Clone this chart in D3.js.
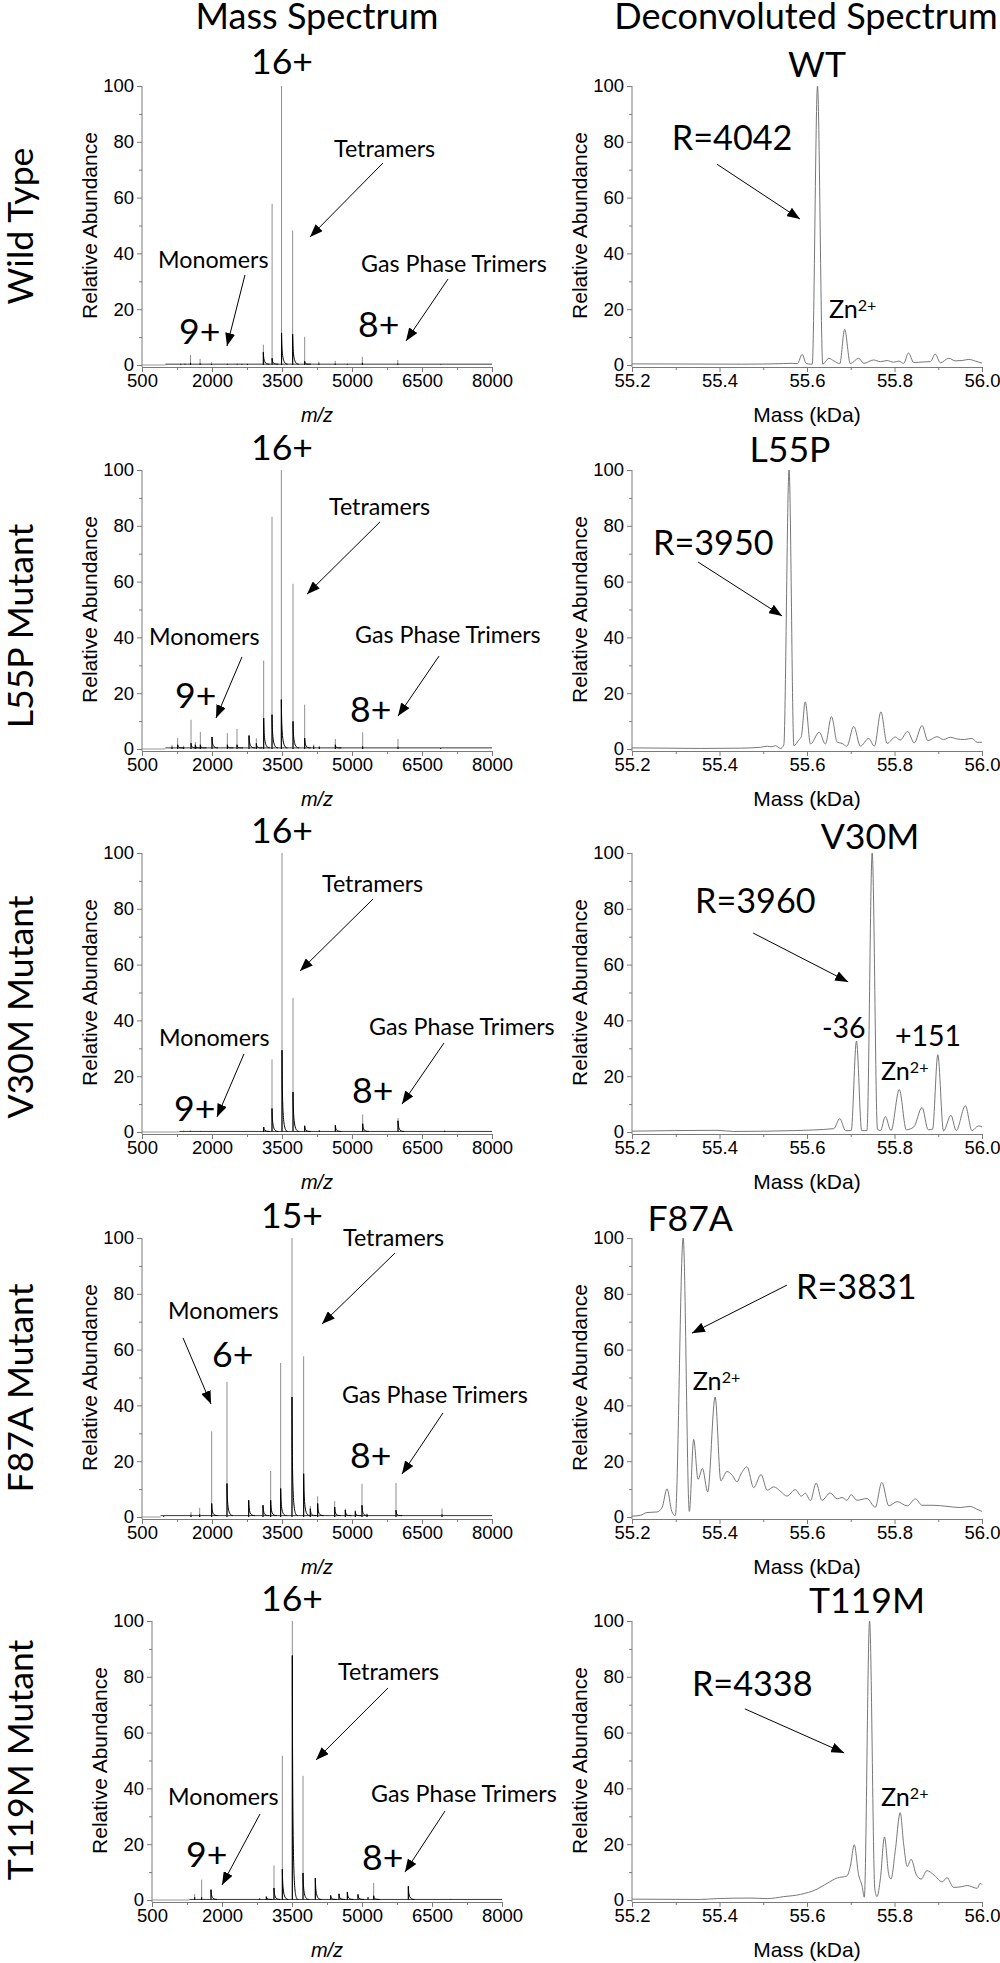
<!DOCTYPE html>
<html><head><meta charset="utf-8">
<script src="https://cdn.jsdelivr.net/npm/d3@7"></script>
<style>body{margin:0;background:#fff}svg{display:block}</style>
</head><body>
<svg id="c" width="1000" height="1963"></svg>
<script>
// ---------------- DATA ----------------
const columnTitles = ["Mass Spectrum", "Deconvoluted Spectrum"];
const rowLabels = ["Wild Type", "L55P Mutant", "V30M Mutant", "F87A Mutant", "T119M Mutant"];
const msTicks = [500, 2000, 3500, 5000, 6500, 8000];
const msMinorTicks = [1250, 2750, 4250, 5750, 7250];
const dcTicks = [55.2, 55.4, 55.6, 55.8, 56.0];
const dcMinorTicks = [55.3, 55.5, 55.7, 55.9];
const yTicks = [0, 20, 40, 60, 80, 100];
const yMinorTicks = [10, 30, 50, 70, 90];

// mass spectra peaks: [m/z, peak height (grey), dark core height]
const msWT = [[1330,0.6,0.3],[1420,0.7,0.3],[1540,3.6,0.8],[1745,2.2,0.6],[1990,1.0,0.4],[2330,0.6,0.3],[2540,0.7,0.3],[2640,0.5,0.3],[2760,0.6,0.3],[3100,7.3,4.6],[3288,57.8,2.4],[3490,100,11.5],[3728,48.2,11],[3986,10.1,1.3],[4290,1.2,0.5],[4640,1.5,0.5],[4900,0.6,0.3],[5222,2.9,0.8],[5980,1.8,0.5],[6900,0.4,0.2]];
const msL55P = [[1143,1.5,0.8],[1264,3.9,1.5],[1393,1.2,0.6],[1550,10.5,2.1],[1643,2.5,1.5],[1750,6.1,1.5],[2000,4.3,4.3],[2329,5.7,1.5],[2536,7.2,1.5],[2793,4.8,4.8],[2950,3.8,2.0],[3107,31.7,11.1],[3286,83.3,12.3],[3486,100,17.7],[3736,59.2,9.9],[3986,15.9,3.9],[4179,1.6,1.0],[4300,1.0,0.8],[4643,3.6,1.5],[5229,6.0,1.0],[5986,3.6,0.8],[6900,0.5,0.3]];
const msV30M = [[1393,0.5,0.3],[1536,0.6,0.3],[1750,0.4,0.3],[3107,1.8,1.8],[3286,26.0,8.4],[3500,100,29.3],[3736,48.0,14.3],[3986,2.2,2.2],[4300,0.6,0.5],[4643,2.4,2.4],[5229,6.3,3.0],[5986,5.0,4.0],[6986,0.6,0.4]];
const msF87A = [[964,0.5,0.3],[1550,1.8,0.8],[1736,3.3,1.0],[1993,30.7,4.8],[2321,48.4,12],[2786,6.0,6.0],[3093,4.2,4.2],[3257,16.5,6],[3471,55.2,10.2],[3714,100,43],[3964,57.6,15.5],[4107,4,3],[4264,7.4,4.8],[4629,5.7,3.6],[4857,3.0,2.5],[5071,2.4,2.0],[5214,11.9,4.2],[5321,1.2,1.0],[5943,12.2,2.4],[6929,3.0,1.0]];
const msT119M = [[1414,2.1,1.0],[1564,7.3,1.0],[1764,3.7,3.7],[2807,0.5,0.5],[2950,1.2,1.2],[3114,12.4,4.3],[3293,51.7,11],[3507,100,87.6],[3736,44.5,9.7],[4000,7.9,7.9],[4329,1.6,1.6],[4507,2.2,2.2],[4686,2.9,2.9],[4914,2.0,2.0],[5129,1.0,1.0],[5250,6.1,1.5],[5993,4.9,4.9],[6900,0.4,0.3]];
// baseline of each mass spectrum: [start m/z, level]
const msBaselines = [[1000,0.3],[1000,0.4],[1300,0.2],[900,0.5],[1300,0.2]];

// deconvoluted spectra: [mass kDa, relative abundance]
const dcWT = [[55.2,0.4],[55.45,0.3],[55.547,0.5],[55.566,0.6],[55.578,0.5],[55.589,3.8],[55.598,0.6],[55.608,0.3],[55.612,0.3],[55.624,100],[55.636,0.3],[55.650,2.4],[55.661,1.5],[55.675,0.5],[55.686,12.8],[55.699,0.5],[55.718,2.4],[55.730,0.6],[55.752,1.8],[55.768,1.2],[55.783,1.6],[55.798,1.0],[55.810,1.4],[55.821,0.6],[55.832,4.3],[55.844,0.9],[55.867,1.1],[55.882,1.2],[55.893,3.9],[55.905,0.8],[55.924,2.4],[55.939,1.5],[55.954,1.6],[55.970,2.0],[55.985,1.4],[56.0,0.7]];
const dcL55P = [[55.2,0.4],[55.28,0.3],[55.356,0.2],[55.448,0.3],[55.493,0.6],[55.509,1.0],[55.52,0.8],[55.528,1.2],[55.539,0.2],[55.547,1.5],[55.559,100],[55.570,1.2],[55.581,3.2],[55.587,4.5],[55.596,16.9],[55.608,1.8],[55.628,6.0],[55.642,1.8],[55.656,11.6],[55.669,2.5],[55.680,2.0],[55.691,1.0],[55.707,8.1],[55.722,1.0],[55.741,3.8],[55.754,1.0],[55.769,13.3],[55.783,2.0],[55.802,4.3],[55.813,3.2],[55.830,6.3],[55.845,2.2],[55.863,8.4],[55.876,3.0],[55.897,4.4],[55.912,3.4],[55.928,4.2],[55.943,3.6],[55.960,3.4],[55.977,3.8],[55.989,2.4],[56.0,2.4]];
const dcV30M = [[55.2,0.3],[55.394,0.6],[55.432,0.2],[55.57,0.5],[55.661,1.2],[55.675,4.8],[55.688,0.5],[55.701,0.5],[55.713,32.6],[55.725,0.5],[55.737,0.5],[55.749,100],[55.761,1.0],[55.768,0.5],[55.779,5.5],[55.792,0.5],[55.811,15.2],[55.827,0.8],[55.844,1.8],[55.863,8.8],[55.877,0.8],[55.887,1.0],[55.899,27.7],[55.912,0.4],[55.929,6.0],[55.941,0.5],[55.962,9.4],[55.977,0.5],[55.992,2.2],[56.0,1.8]];
const dcF87A = [[55.2,0.3],[55.219,0.6],[55.234,1.6],[55.257,1.8],[55.269,3.5],[55.28,10.1],[55.291,2],[55.299,0.5],[55.317,100],[55.331,2],[55.341,27.8],[55.351,13.5],[55.361,17.4],[55.373,9],[55.39,43],[55.403,13],[55.417,16.3],[55.429,15],[55.44,12.6],[55.449,15.4],[55.463,18],[55.478,10.5],[55.495,15.2],[55.509,9.6],[55.524,10.8],[55.541,9.0],[55.554,7.5],[55.573,9.8],[55.587,7.5],[55.596,8.5],[55.608,5.9],[55.621,12.2],[55.634,6.0],[55.653,8.6],[55.669,6.5],[55.680,7.0],[55.691,6.0],[55.701,8.0],[55.714,6.0],[55.737,6.6],[55.756,3.5],[55.771,12.4],[55.787,4.0],[55.806,5.5],[55.829,4.0],[55.848,6.5],[55.863,4.2],[55.890,4.2],[55.920,3.8],[55.950,3.4],[55.973,3.8],[55.988,2.8],[56.0,2.0]];
const dcT119M = [[55.2,0.3],[55.356,0.2],[55.394,0.5],[55.47,0.7],[55.509,0.5],[55.547,1.2],[55.585,2.0],[55.623,3.9],[55.646,6.0],[55.669,7.9],[55.691,8.6],[55.699,12],[55.708,19.8],[55.718,9],[55.726,5],[55.731,1.0],[55.743,100],[55.755,4],[55.760,1.2],[55.768,8],[55.777,22.6],[55.787,9],[55.792,7.5],[55.802,18],[55.813,31.3],[55.821,20],[55.829,12],[55.838,14.6],[55.850,9],[55.861,7.5],[55.874,10.5],[55.890,9],[55.909,6.5],[55.920,8],[55.935,4.5],[55.954,4.8],[55.966,5.2],[55.989,4.2],[55.996,6],[56.0,5.5]];

const msSeries = [msWT, msL55P, msV30M, msF87A, msT119M];
const dcSeries = [dcWT, dcL55P, dcV30M, dcF87A, dcT119M];

// annotations (data units): [text, x, y, style, anchor]
const msNotes = [
  [["16+",3500,104.3,"big","middle"],["Tetramers",4614,74.5,"mid","start"],["Monomers",843,34.8,"mid","start"],["9+",1293,7.5,"big","start"],["Gas Phase Trimers",5193,33.3,"mid","start"],["8+",5129,10.0,"big","start"]],
  [["16+",3500,103.6,"big","middle"],["Tetramers",4507,83.9,"mid","start"],["Monomers",650,37.3,"mid","start"],["9+",1207,14.7,"big","start"],["Gas Phase Trimers",5064,38.0,"mid","start"],["8+",4957,9.7,"big","start"]],
  [["16+",3500,103.6,"big","middle"],["Tetramers",4357,86.0,"mid","start"],["Monomers",864,30.8,"mid","start"],["9+",1186,3.9,"big","start"],["Gas Phase Trimers",5364,34.8,"mid","start"],["8+",5000,10.4,"big","start"]],
  [["15+",3714,103.6,"big","middle"],["Tetramers",4807,97.1,"mid","start"],["Monomers",1057,71.0,"mid","start"],["6+",2000,53.8,"big","start"],["Gas Phase Trimers",4786,40.9,"mid","start"],["8+",4957,17.6,"big","start"]],
  [["16+",3500,103.6,"big","middle"],["Tetramers",4486,78.8,"mid","start"],["Monomers",843,34.0,"mid","start"],["9+",1229,11.8,"big","start"],["Gas Phase Trimers",5193,35.1,"mid","start"],["8+",5000,10.8,"big","start"]]
];
// arrows (data units): [x tail, y tail, x tip, y tip]
const msArrows = [
  [[5664,72.4,4100,45.9],[2707,32.3,2321,6.8],[7057,30.8,6157,8.6]],
  [[5600,81.4,4036,55.5],[2643,33.0,2086,11.1],[6864,33.3,5986,11.8]],
  [[5450,83.5,3886,57.7],[2686,28.0,2107,5.4],[6971,31.9,6071,10.0]],
  [[5921,94.6,4357,69.2],[1379,64.2,1979,40.5],[6950,37.3,6071,15.4]],
  [[5557,76.0,4014,50.2],[2814,30.8,2000,5.4],[6779,31.9,5921,10.0]]
];
const dcNotes = [
  [["WT",55.623,103.2,"big","middle"],["R=4042",55.291,77.1,"rv","start"],["Zn",55.650,16.8,"zn","start"]],
  [["L55P",55.561,102.9,"big","middle"],["R=3950",55.248,69.5,"rv","start"]],
  [["V30M",55.744,101.6,"big","middle"],["R=3960",55.344,78.5,"rv","start"],["-36",55.634,33.7,"num","start"],["+151",55.801,30.8,"num","start"],["Zn",55.769,18.6,"zn","start"]],
  [["F87A",55.333,102.5,"big","middle"],["R=3831",55.575,78.1,"rv","start"],["Zn",55.339,45.5,"zn","start"]],
  [["T119M",55.737,102.9,"big","middle"],["R=4338",55.337,73.1,"rv","start"],["Zn",55.769,33.7,"zn","start"]]
];
const dcArrows = [
  [[55.394,72.0,55.584,52.3]],
  [[55.351,67.0,55.543,47.7]],
  [[55.477,71.3,55.694,53.8]],
  [[55.554,83.1,55.337,65.9]],
  [[55.458,68.5,55.685,52.7]]
];

// ---------------- LAYOUT / STYLE ----------------
const rowTop = [86, 470, 853, 1238, 1621];
const plotH = 279;
const leftRange = [[142,492],[142,492],[142,492],[142,492],[152,502]];
const rightRange = [632, 982];
const rowLabelY = [226, 626, 1007, 1388, 1760];
const CAL = "Lato, 'Open Sans', sans-serif";
const FS = 0.95;                       // Lato -> Calibri width compensation
const calSize = {big:37.5, rv:36, mid:24.5, num:30, zn:26.5, sup:17, title:38, row:37.5};
const ARIAL = "'Liberation Sans', Arial, sans-serif";
const AXIS_GREY = "#7a7a7a";

const svg = d3.select("#c");
svg.append("rect").attr("width",1000).attr("height",1963).attr("fill","#fff");
svg.append("defs").append("marker")
  .attr("id","ah").attr("viewBox","0 0 13 10").attr("refX",13).attr("refY",5)
  .attr("markerWidth",13).attr("markerHeight",10).attr("markerUnits","userSpaceOnUse")
  .attr("orient","auto")
  .append("path").attr("d","M0,0 L13,5 L0,10 Z").attr("fill","#000");

function cal(k){ return (calSize[k]*FS).toFixed(2)+"px"; }

// column titles
svg.append("text").attr("x",317).attr("y",29).attr("text-anchor","middle")
  .style("font-family",CAL).style("font-size",cal("title")).text(columnTitles[0]);
svg.append("text").attr("x",806).attr("y",29).attr("text-anchor","middle")
  .style("font-family",CAL).style("font-size",cal("title")).text(columnTitles[1]);

function drawAxes(g, x, y, ticks, minor, fmt, zero, top, xTitle, italic){
  const [x0,x1] = x.range();
  // x axis
  const ax = g.append("g").attr("transform",`translate(0,${zero+2})`);
  ax.call(d3.axisBottom(x).tickValues(ticks).tickSize(5).tickPadding(2).tickSizeOuter(0).tickFormat(fmt));
  ax.append("g").call(d3.axisBottom(x).tickValues(minor).tickSize(3).tickSizeOuter(0).tickFormat(""))
    .select(".domain").remove();
  // y axis
  const ay = g.append("g").attr("transform",`translate(${x0},0)`);
  ay.call(d3.axisLeft(y).tickValues(yTicks).tickSize(5).tickPadding(3).tickSizeOuter(0).tickFormat(d3.format("d")));
  ay.append("g").call(d3.axisLeft(y).tickValues(yMinorTicks).tickSize(3).tickSizeOuter(0).tickFormat(""))
    .select(".domain").remove();
  ay.select(".domain").attr("d",`M0,${top}V${zero+2}`);
  g.selectAll(".domain").attr("stroke",AXIS_GREY).attr("stroke-width",1);
  g.selectAll(".tick line").attr("stroke",AXIS_GREY);
  g.selectAll(".tick text").attr("fill","#000").style("font-family",ARIAL).style("font-size","18.5px");
  // titles
  g.append("text").attr("transform",`translate(${x0-45},${(top+zero)/2}) rotate(-90)`)
    .attr("text-anchor","middle").style("font-family",ARIAL).style("font-size","21px").text("Relative Abundance");
  g.append("text").attr("x",(x0+x1)/2).attr("y",zero+57).attr("text-anchor","middle")
    .style("font-family",ARIAL).style("font-size", italic ? "20px":"21px").style("font-style", italic?"italic":"normal")
    .text(xTitle);
}

function drawNotes(g, x, y, notes, arrows){
  notes.forEach(([t,xv,yv,st,anchor])=>{
    const tx = g.append("text").attr("x",x(xv)).attr("y",y(yv)).attr("text-anchor",anchor)
      .style("font-family",CAL).style("font-size",cal(st)).attr("fill","#000");
    if (st==="zn"){
      tx.text("Zn");
      tx.append("tspan").attr("dy","-0.42em").style("font-size",cal("sup")).text("2+");
    } else tx.text(t);
  });
  arrows.forEach(([a,b,c,d])=>{
    g.append("line").attr("x1",x(a)).attr("y1",y(b)).attr("x2",x(c)).attr("y2",y(d))
      .attr("stroke","#000").attr("stroke-width",1).attr("marker-end","url(#ah)");
  });
}

for (let r=0; r<5; r++){
  const top = rowTop[r], zero = top + plotH;
  const y = d3.scaleLinear().domain([0,100]).range([zero, top]);

  // row label
  svg.append("text").attr("transform",`translate(33,${rowLabelY[r]}) rotate(-90)`)
    .attr("text-anchor","middle").style("font-family",CAL).style("font-size",cal("row")).text(rowLabels[r]);

  // ---- mass spectrum ----
  const xL = d3.scaleLinear().domain([500,8000]).range(leftRange[r]);
  const gL = svg.append("g");
  const [bStart, bLevel] = msBaselines[r];
  gL.append("path").attr("d",d3.line()([[xL(500),y(0)],[xL(bStart),y(0)]])).attr("stroke","#999").attr("fill","none");
  gL.append("path").attr("d",d3.line()([[xL(bStart),y(bLevel)],[xL(8000),y(bLevel)]])).attr("stroke","#222").attr("stroke-width",0.9).attr("fill","none");
  const peaks = msSeries[r];
  gL.selectAll("line.g").data(peaks).join("line").attr("class","g")
    .attr("x1",d=>xL(d[0])).attr("x2",d=>xL(d[0])).attr("y1",y(0)).attr("y2",d=>y(d[1]))
    .attr("stroke","#8f8f8f").attr("stroke-width",1);
  gL.selectAll("line.k").data(peaks).join("line").attr("class","k")
    .attr("x1",d=>xL(d[0])).attr("x2",d=>xL(d[0])).attr("y1",y(0)).attr("y2",d=>y(d[2]))
    .attr("stroke","#000").attr("stroke-width",1.1);
  // tailing shape of each peak
  gL.selectAll("path.t").data(peaks.filter(d=>d[2]>1)).join("path").attr("class","t")
    .attr("d",d=>`M${xL(d[0])},${y(d[2])}C${xL(d[0]+8)},${y(Math.min(d[2],15)*0.25)} ${xL(d[0]+30)},${y(bLevel)} ${xL(d[0]+130)},${y(bLevel)}`)
    .attr("stroke","#000").attr("stroke-width",1).attr("fill","none");
  drawAxes(gL, xL, y, msTicks, msMinorTicks, d3.format("d"), zero, top, "m/z", true);
  drawNotes(gL, xL, y, msNotes[r], msArrows[r]);

  // ---- deconvoluted spectrum ----
  const xR = d3.scaleLinear().domain([55.2,56.0]).range(rightRange);
  const gR = svg.append("g");
  gR.append("path").datum(dcSeries[r])
    .attr("d", d3.line().x(d=>xR(d[0])).y(d=>y(d[1])).curve(d3.curveMonotoneX))
    .attr("fill","none").attr("stroke","#777").attr("stroke-width",1);
  drawAxes(gR, xR, y, dcTicks, dcMinorTicks, d3.format(".1f"), zero, top, "Mass (kDa)", false);
  drawNotes(gR, xR, y, dcNotes[r], dcArrows[r]);
}
</script>
</body></html>
